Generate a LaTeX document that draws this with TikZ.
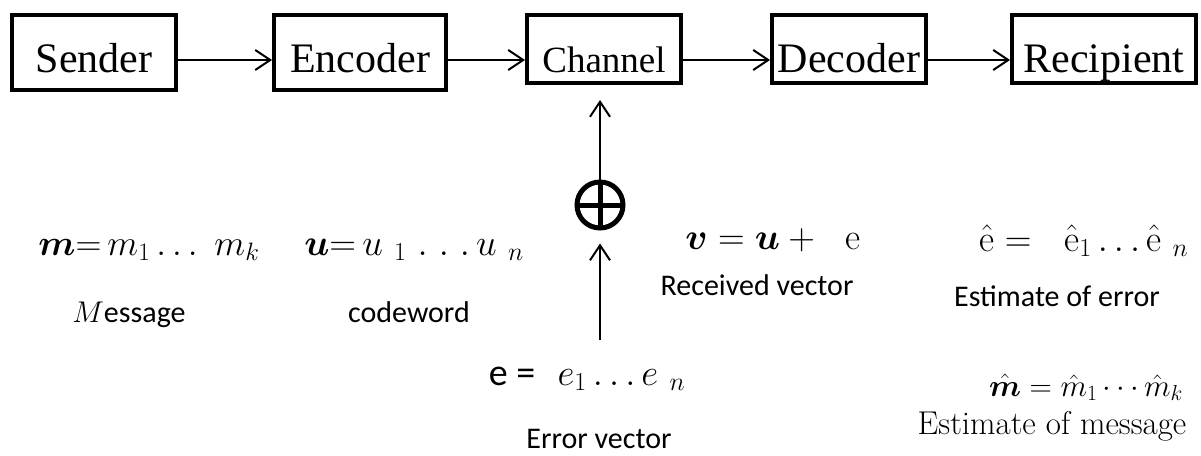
\RequirePackage{fix-cm}
\documentclass[tikz,border=0pt]{standalone}
\usepackage{amsmath}
\usepackage{fontspec}
\usetikzlibrary{arrows.meta}
\newfontfamily\tnr{Liberation Serif}
\newfontfamily\calib{Carlito}
\tikzset{
  blk/.style={draw, line width=4pt, inner sep=0pt, text height=46pt, text depth=0pt,
    font=\tnr\fontsize{42}{48}\selectfont},
  arr/.style={line width=2pt, -{Straight Barb[length=15pt,width=20pt,line width=2pt]}},
  mth/.style={anchor=base, inner sep=0pt, font=\fontsize{37}{42}\selectfont},
  lbl/.style={anchor=base, inner sep=0pt, font=\calib\fontsize{30}{36}\selectfont},
}
\begin{document}
\begin{tikzpicture}[x=1pt,y=-1pt]
\useasboundingbox (0,0) rectangle (1201,455);
% boxes
\node[blk, minimum width=164pt, minimum height=75pt, text height=39pt] (send) at (94,52.5) {Sender};
\node[blk, minimum width=172pt, minimum height=75pt, text height=39pt] (enc) at (360,52.5) {Encoder};
\node[blk, minimum width=154pt, minimum height=68pt, font=\tnr\fontsize{37}{42}\selectfont] (chan) at (604,49) {Channel};
\node[blk, minimum width=154pt, minimum height=68pt] (dec) at (849,49) {Decoder};
\node[blk, minimum width=184pt, minimum height=68pt] (rec) at (1104,49) {Recipient};
% horizontal arrows
\draw[arr] (send.east |- 0,60) -- (enc.west |- 0,60);
\draw[arr] (enc.east |- 0,60) -- (chan.west |- 0,60);
\draw[arr] (chan.east |- 0,60) -- (dec.west |- 0,60);
\draw[arr] (dec.east |- 0,60) -- (rec.west |- 0,60);
% xor
\node[draw, circle, line width=5pt, minimum size=46pt, inner sep=0pt,
  path picture={\draw[line width=5pt] (path picture bounding box.north) -- (path picture bounding box.south)
  (path picture bounding box.west) -- (path picture bounding box.east);}] (xor) at (600,205) {};
\coordinate (ebot) at (600,340);
\draw[arr, shorten >=15pt] (xor.north) -- (xor.north |- chan.south);
\draw[arr, shorten >=13pt] (ebot) -- (xor.south);
% texts
\node[mth, font=\fontsize{36}{42}\selectfont] (mrow) at (149,255) {$\boldsymbol{m}{=}\,m_1\ldots\ m_k$};
\node[mth] (urow) at (414,255) {$\boldsymbol{u}{=}\,u_{\ 1}\ .\ .\ .\,u_{\ n}$};
\node[lbl] (msg) at (129,322) {$M$essage};
\node[lbl] (cw) at (409,322) {codeword};
\node[mth] (vrow) at (773,249) {$\boldsymbol{v} = \boldsymbol{u} +\ \ \mathrm{e}$};
\node[lbl] (rv) at (757,295) {Received vector};
\node[mth] (ehat) at (1084,251) {$\hat{\mathrm{e}} =\ \ \hat{\mathrm{e}}_1\ldots\hat{\mathrm{e}}_{\ n}$};
\node[lbl] (eoe) at (1057,306) {Estimate of error};
\node[mth] (erow) at (587,385) {{\calib\fontsize{38}{44}\selectfont e =}\ \ $e_1\ldots e_{\ n}$};
\node[lbl] (ev) at (599,448) {Error vector};
\node[anchor=base, inner sep=0pt, font=\fontsize{31}{36}\selectfont] (mhat) at (1086,396) {$\hat{\boldsymbol{m}} = \hat{m}_1\cdots\hat{m}_k$};
\node[anchor=base, inner sep=0pt, font=\fontsize{33}{38}\selectfont] (eom) at (1052,434) {Estimate of message};
\end{tikzpicture}
\end{document}
